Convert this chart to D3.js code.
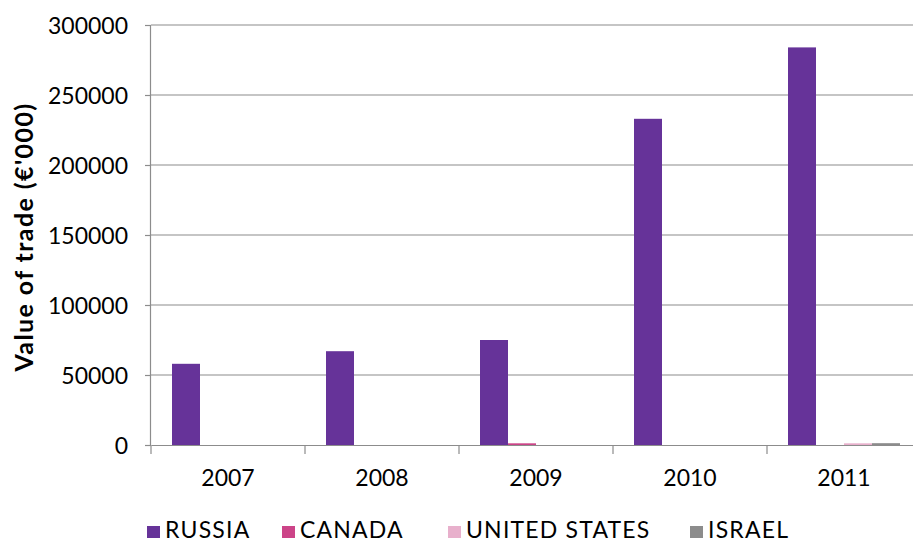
<!DOCTYPE html>
<html><head><meta charset="utf-8">
<script src="https://cdn.jsdelivr.net/npm/d3@7"></script>
<style>
body{margin:0;background:#fff;}
text{font-family:Lato,"Open Sans",sans-serif;fill:#000;}
</style></head>
<body><svg id="c" width="913" height="542"></svg>
<script>
const years = ["2007","2008","2009","2010","2011"];
const seriesNames = ["RUSSIA","CANADA","UNITED STATES","ISRAEL"];
const colors = ["#663399","#cc4488","#e8b0cc","#8c8c8c"];
const russia = [58000, 67000, 75000, 233000, 284000];
const canada = [0, 0, 1200, 0, 0];
const unitedStates = [0, 0, 0, 0, 1200];
const israel = [0, 0, 0, 0, 1300];
const yTicks = [0, 50000, 100000, 150000, 200000, 250000, 300000];

const seriesValues = [russia, canada, unitedStates, israel];
const svg = d3.select("#c");
const mLeft = 151, mRight = 921, mTop = 25, mBottom = 445;

const x = d3.scaleBand().domain(years).range([mLeft, mRight]).paddingInner(0).paddingOuter(0);
const x1 = d3.scaleBand().domain(seriesNames).range([0, x.bandwidth()]).paddingOuter(0.75).paddingInner(0);
const y = d3.scaleLinear().domain([0, 300000]).range([mBottom, mTop]);

// gridlines
svg.append("g").selectAll("line").data(yTicks.filter(d => d > 0)).join("line")
  .attr("x1", mLeft).attr("x2", mRight)
  .attr("y1", d => y(d)).attr("y2", d => y(d))
  .attr("stroke", "#8c8c8c").attr("stroke-width", 1.2);

// bars
const groups = svg.append("g").selectAll("g").data(years).join("g")
  .attr("transform", d => `translate(${x(d)},0)`);
groups.selectAll("rect").data((yr, i) => seriesNames.map((s, j) => ({s, j, v: seriesValues[j][i]})))
  .join("rect")
  .attr("x", d => x1(d.s)).attr("width", x1.bandwidth())
  .attr("y", d => y(d.v)).attr("height", d => y(0) - y(d.v))
  .attr("fill", d => colors[d.j]);

// y axis
const yAxis = svg.append("g").attr("transform", `translate(${mLeft},0)`)
  .call(d3.axisLeft(y).tickValues(yTicks).tickFormat(d3.format("d")).tickSize(6).tickPadding(17));
yAxis.select(".domain").attr("stroke", "#8c8c8c").attr("stroke-width", 1.2).attr("d", `M-0.5,${mBottom+0.5}V${mTop}`);
yAxis.selectAll(".tick line").attr("stroke", "#8c8c8c").attr("stroke-width", 1.2);
yAxis.selectAll("text").attr("font-size", 23).attr("dy", "0.36em");

// x axis
const xAxis = svg.append("g").attr("transform", `translate(0,${mBottom})`)
  .call(d3.axisBottom(x).tickSize(0).tickPadding(25));
xAxis.select(".domain").attr("stroke", "#8c8c8c").attr("stroke-width", 1.2);
xAxis.selectAll("text").attr("font-size", 23);
svg.append("g").selectAll("line").data(years).join("line")
  .attr("x1", d => x(d)).attr("x2", d => x(d))
  .attr("y1", mBottom).attr("y2", mBottom + 9)
  .attr("stroke", "#8c8c8c").attr("stroke-width", 1.2);

// y title
svg.append("text").attr("transform", `translate(33,237) rotate(-90)`)
  .attr("text-anchor", "middle").attr("font-size", 25).attr("font-weight", "bold")
  .attr("letter-spacing", 1.4)
  .text("Value of trade (€'000)");

// legend
const legendX = [147, 282, 448, 690];
const lg = svg.append("g").selectAll("g").data(seriesNames).join("g")
  .attr("transform", (d, i) => `translate(${legendX[i]},0)`);
lg.append("rect").attr("x", 0).attr("y", 526).attr("width", 13).attr("height", 12)
  .attr("fill", (d, i) => colors[i]);
lg.append("text").attr("x", 18).attr("y", 538).attr("font-size", 23).attr("letter-spacing", 1.2).text(d => d);
</script></body></html>
